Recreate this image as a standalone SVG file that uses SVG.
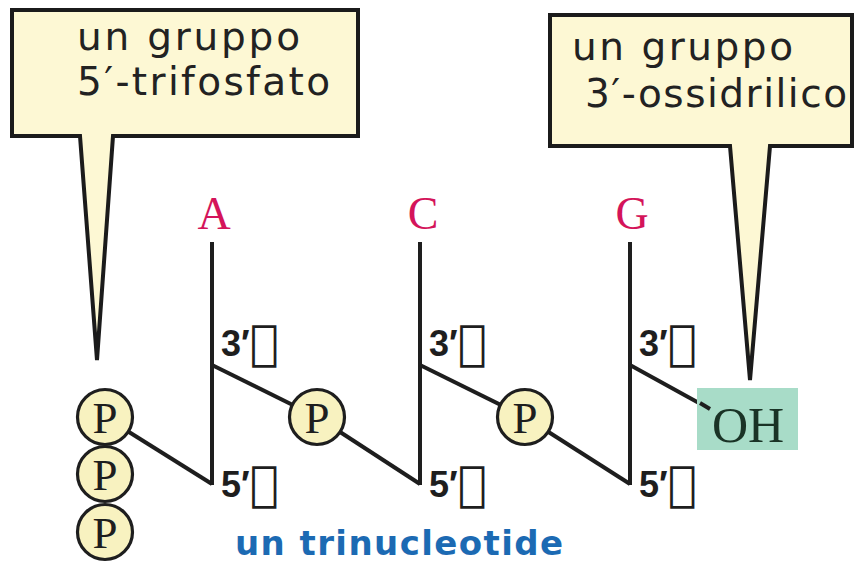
<svg xmlns="http://www.w3.org/2000/svg" width="855" height="566" viewBox="0 0 855 566">
<style>
.callout{fill:#fdf8d4;stroke:#1b1b1b;stroke-width:4;stroke-linejoin:miter}
.ctext{font-family:"DejaVu Sans",sans-serif;font-size:39px;fill:#222}
.base{font-family:"Liberation Serif",serif;font-size:46px;fill:#d4145a;text-anchor:middle}
.bond{stroke:#1e1e1e;stroke-width:4;fill:none;stroke-linecap:butt}
.pc{fill:#f8f2c0;stroke:#1e1e1e;stroke-width:3.2}
.pt{font-family:"Liberation Serif",serif;font-size:45px;fill:#1e1e1e;text-anchor:middle}
.lab{font-family:"Liberation Sans",sans-serif;font-weight:bold;font-size:36px;fill:#1e1e1e}
.box{font-family:"DejaVu Sans",sans-serif;font-weight:normal;font-size:48px}
</style>
<rect width="855" height="566" fill="#ffffff"/>
<g id="callout-5">
<path class="callout" d="M12,10 H358 V136 H113 L97,360 L80,136 H12 Z"/>
<text class="ctext" x="77" y="50" textLength="223" lengthAdjust="spacing">un gruppo</text>
<text class="ctext" x="77" y="95" textLength="253" lengthAdjust="spacing">5′-trifosfato</text>
</g>
<g id="callout-3">
<path class="callout" d="M550,15 H852 V146 H770 L750,380 L730,146 H550 Z"/>
<text class="ctext" x="572" y="60" textLength="221" lengthAdjust="spacing">un gruppo</text>
<text class="ctext" x="585" y="107" textLength="262" lengthAdjust="spacing">3′-ossidrilico</text>
</g>
<g id="connectors">
<line class="bond" x1="212" y1="242" x2="212" y2="485"/>
<line class="bond" x1="420" y1="242" x2="420" y2="485"/>
<line class="bond" x1="630" y1="242" x2="630" y2="485"/>
<line class="bond" x1="105" y1="417" x2="212" y2="484"/>
<line class="bond" x1="212" y1="365" x2="317" y2="417"/>
<line class="bond" x1="317" y1="417" x2="420" y2="484"/>
<line class="bond" x1="420" y1="365" x2="525" y2="417"/>
<line class="bond" x1="525" y1="417" x2="630" y2="484"/>
<line class="bond" x1="630" y1="365" x2="708" y2="408"/>
</g>
<g id="nuc-A">
<text class="base" x="214" y="229">A</text>
<text class="lab" x="221" y="356">3′<tspan class="box" dy="3">&#xFDD0;</tspan></text>
<text class="lab" x="221" y="497">5′<tspan class="box" dy="3">&#xFDD0;</tspan></text>
</g>
<g id="nuc-C">
<text class="base" x="423" y="229">C</text>
<text class="lab" x="429" y="356">3′<tspan class="box" dy="3">&#xFDD0;</tspan></text>
<text class="lab" x="429" y="497">5′<tspan class="box" dy="3">&#xFDD0;</tspan></text>
</g>
<g id="nuc-G">
<text class="base" x="632" y="229">G</text>
<text class="lab" x="639" y="356">3′<tspan class="box" dy="3">&#xFDD0;</tspan></text>
<text class="lab" x="639" y="497">5′<tspan class="box" dy="3">&#xFDD0;</tspan></text>
</g>
<g id="p-tri">
<circle class="pc" cx="105" cy="532" r="27.5"/>
<text class="pt" x="105" y="548">P</text>
<circle class="pc" cx="105" cy="474" r="27.5"/>
<text class="pt" x="105" y="490">P</text>
<circle class="pc" cx="105" cy="417" r="27.5"/>
<text class="pt" x="105" y="433">P</text>
</g>
<g id="p-2">
<circle class="pc" cx="317" cy="417" r="27.5"/>
<text class="pt" x="317" y="433">P</text>
</g>
<g id="p-3">
<circle class="pc" cx="525" cy="417" r="27.5"/>
<text class="pt" x="525" y="433">P</text>
</g>
<g id="oh">
<rect x="697" y="388" width="101" height="62" fill="#a8dcc8"/>
<line class="bond" x1="700" y1="403" x2="710" y2="409"/>
<text x="748" y="442" font-family="'Liberation Serif',serif" font-size="50" fill="#1a3326" text-anchor="middle">OH</text>
</g>
<g id="title">
<text x="235" y="555" font-family="'DejaVu Sans',sans-serif" font-weight="bold" font-size="34" fill="#1c6ab3" textLength="328" lengthAdjust="spacing">un trinucleotide</text>
</g>
</svg>
